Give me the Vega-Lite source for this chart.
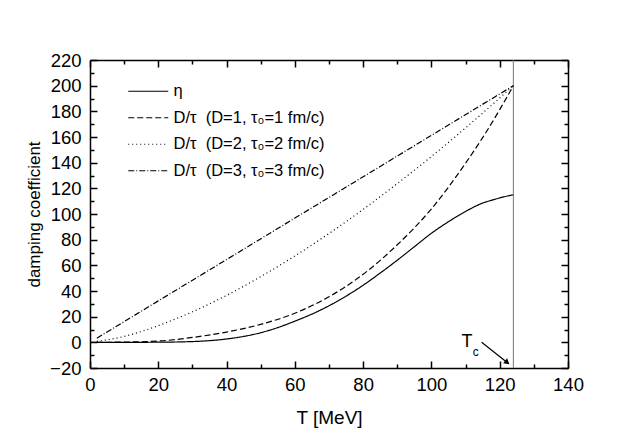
{
  "$schema": "https://vega.github.io/schema/vega-lite/v6.json",
  "width": 478,
  "height": 308,
  "autosize": {"type": "none"},
  "padding": {"left": 90, "top": 60, "right": 58, "bottom": 68},
  "background": "white",
  "config": {
    "view": {"stroke": null},
    "font": "Liberation Sans",
    "axis": {
      "grid": false,
      "domainColor": "black",
      "domainWidth": 1.5,
      "tickColor": "black",
      "tickWidth": 1.5,
      "labelFont": "Liberation Sans",
      "labelFontSize": 18.5,
      "labelColor": "black",
      "titleFont": "Liberation Sans",
      "titleFontSize": 17,
      "titleFontWeight": "normal",
      "titleColor": "black"
    }
  },
  "datasets": {
    "curves": [
      {"T": 0, "v": 0, "s": "η"},
      {"T": 10, "v": 0, "s": "η"},
      {"T": 20, "v": 0.1, "s": "η"},
      {"T": 30, "v": 0.6, "s": "η"},
      {"T": 40, "v": 2.6, "s": "η"},
      {"T": 45, "v": 4.6, "s": "η"},
      {"T": 50, "v": 7.5, "s": "η"},
      {"T": 55, "v": 11.5, "s": "η"},
      {"T": 60, "v": 16.5, "s": "η"},
      {"T": 65, "v": 22, "s": "η"},
      {"T": 70, "v": 28.5, "s": "η"},
      {"T": 75, "v": 36, "s": "η"},
      {"T": 80, "v": 44.5, "s": "η"},
      {"T": 85, "v": 54, "s": "η"},
      {"T": 90, "v": 64, "s": "η"},
      {"T": 95, "v": 74.5, "s": "η"},
      {"T": 100, "v": 85, "s": "η"},
      {"T": 105, "v": 94, "s": "η"},
      {"T": 110, "v": 102, "s": "η"},
      {"T": 115, "v": 108.5, "s": "η"},
      {"T": 118, "v": 111, "s": "η"},
      {"T": 121, "v": 113.2, "s": "η"},
      {"T": 124, "v": 115, "s": "η"},
      {"T": 2, "v": 0, "s": "D/τ\u00a0 (D=1, τ₀=1 fm/c)"},
      {"T": 10, "v": 0.2, "s": "D/τ\u00a0 (D=1, τ₀=1 fm/c)"},
      {"T": 20, "v": 1, "s": "D/τ\u00a0 (D=1, τ₀=1 fm/c)"},
      {"T": 30, "v": 3.8, "s": "D/τ\u00a0 (D=1, τ₀=1 fm/c)"},
      {"T": 40, "v": 8, "s": "D/τ\u00a0 (D=1, τ₀=1 fm/c)"},
      {"T": 50, "v": 14, "s": "D/τ\u00a0 (D=1, τ₀=1 fm/c)"},
      {"T": 60, "v": 22.7, "s": "D/τ\u00a0 (D=1, τ₀=1 fm/c)"},
      {"T": 70, "v": 35.5, "s": "D/τ\u00a0 (D=1, τ₀=1 fm/c)"},
      {"T": 80, "v": 53, "s": "D/τ\u00a0 (D=1, τ₀=1 fm/c)"},
      {"T": 90, "v": 76, "s": "D/τ\u00a0 (D=1, τ₀=1 fm/c)"},
      {"T": 100, "v": 104, "s": "D/τ\u00a0 (D=1, τ₀=1 fm/c)"},
      {"T": 110, "v": 139.6, "s": "D/τ\u00a0 (D=1, τ₀=1 fm/c)"},
      {"T": 115, "v": 159.5, "s": "D/τ\u00a0 (D=1, τ₀=1 fm/c)"},
      {"T": 120, "v": 181.3, "s": "D/τ\u00a0 (D=1, τ₀=1 fm/c)"},
      {"T": 124, "v": 200, "s": "D/τ\u00a0 (D=1, τ₀=1 fm/c)"},
      {"T": 2, "v": 0.8, "s": "D/τ\u00a0 (D=2, τ₀=2 fm/c)"},
      {"T": 5, "v": 2, "s": "D/τ\u00a0 (D=2, τ₀=2 fm/c)"},
      {"T": 10, "v": 4.6, "s": "D/τ\u00a0 (D=2, τ₀=2 fm/c)"},
      {"T": 15, "v": 8.4, "s": "D/τ\u00a0 (D=2, τ₀=2 fm/c)"},
      {"T": 20, "v": 13, "s": "D/τ\u00a0 (D=2, τ₀=2 fm/c)"},
      {"T": 30, "v": 23.8, "s": "D/τ\u00a0 (D=2, τ₀=2 fm/c)"},
      {"T": 40, "v": 36.6, "s": "D/τ\u00a0 (D=2, τ₀=2 fm/c)"},
      {"T": 50, "v": 51.2, "s": "D/τ\u00a0 (D=2, τ₀=2 fm/c)"},
      {"T": 60, "v": 67.3, "s": "D/τ\u00a0 (D=2, τ₀=2 fm/c)"},
      {"T": 70, "v": 84.8, "s": "D/τ\u00a0 (D=2, τ₀=2 fm/c)"},
      {"T": 80, "v": 103.6, "s": "D/τ\u00a0 (D=2, τ₀=2 fm/c)"},
      {"T": 90, "v": 123.7, "s": "D/τ\u00a0 (D=2, τ₀=2 fm/c)"},
      {"T": 100, "v": 144.8, "s": "D/τ\u00a0 (D=2, τ₀=2 fm/c)"},
      {"T": 110, "v": 167.1, "s": "D/τ\u00a0 (D=2, τ₀=2 fm/c)"},
      {"T": 120, "v": 190.4, "s": "D/τ\u00a0 (D=2, τ₀=2 fm/c)"},
      {"T": 124, "v": 200, "s": "D/τ\u00a0 (D=2, τ₀=2 fm/c)"},
      {"T": 2, "v": 3.2, "s": "D/τ\u00a0 (D=3, τ₀=3 fm/c)"},
      {"T": 20, "v": 32.3, "s": "D/τ\u00a0 (D=3, τ₀=3 fm/c)"},
      {"T": 40, "v": 64.5, "s": "D/τ\u00a0 (D=3, τ₀=3 fm/c)"},
      {"T": 60, "v": 96.8, "s": "D/τ\u00a0 (D=3, τ₀=3 fm/c)"},
      {"T": 80, "v": 129, "s": "D/τ\u00a0 (D=3, τ₀=3 fm/c)"},
      {"T": 100, "v": 161.3, "s": "D/τ\u00a0 (D=3, τ₀=3 fm/c)"},
      {"T": 124, "v": 200, "s": "D/τ\u00a0 (D=3, τ₀=3 fm/c)"}
    ]
  },
  "layer": [
    {
      "data": {"values": [{"Tc": 124}]},
      "mark": {"type": "rule", "color": "#777777", "strokeWidth": 1},
      "encoding": {
        "x": {"field": "Tc", "type": "quantitative", "scale": {"domain": [0, 140], "nice": false}, "axis": null}
      }
    },
    {
      "data": {"name": "curves"},
      "mark": {"type": "line", "color": "black", "strokeWidth": 1.2, "interpolate": "monotone"},
      "encoding": {
        "x": {
          "field": "T", "type": "quantitative",
          "scale": {"domain": [0, 140], "nice": false},
          "axis": {
            "orient": "bottom",
            "title": "T [MeV]",
            "titleFontSize": 19,
            "values": [0, 10, 20, 30, 40, 50, 60, 70, 80, 90, 100, 110, 120, 130, 140],
            "labelExpr": "datum.value % 20 === 0 ? datum.label : ''",
            "tickSize": {"condition": {"test": "datum.value % 20 === 0", "value": -7}, "value": -4},
            "labelPadding": 14,
            "titlePadding": 15,
            "labelFlush": false
          }
        },
        "y": {
          "field": "v", "type": "quantitative",
          "scale": {"domain": [-20, 220], "nice": false},
          "axis": {
            "orient": "left",
            "title": "damping coefficient",
            "values": [-20, -10, 0, 10, 20, 30, 40, 50, 60, 70, 80, 90, 100, 110, 120, 130, 140, 150, 160, 170, 180, 190, 200, 210, 220],
            "labelExpr": "datum.value % 20 === 0 ? datum.label : ''",
            "tickSize": {"condition": {"test": "datum.value % 20 === 0", "value": -7}, "value": -4},
            "labelPadding": 16,
            "titlePadding": 6,
            "labelFlush": false
          }
        },
        "strokeDash": {
          "field": "s", "type": "nominal",
          "scale": {
            "domain": ["η", "D/τ\u00a0 (D=1, τ₀=1 fm/c)", "D/τ\u00a0 (D=2, τ₀=2 fm/c)", "D/τ\u00a0 (D=3, τ₀=3 fm/c)"],
            "range": [[1, 0], [6, 3], [1, 3], [6, 2, 1, 2]]
          },
          "legend": {
            "orient": "none",
            "legendX": 50,
            "legendY": 23,
            "title": null,
            "padding": 0,
            "symbolType": "M-4,0H4",
            "symbolSize": 100,
            "symbolStrokeWidth": 1.2,
            "symbolStrokeColor": "black",
            "labelFont": "Liberation Sans",
            "labelFontSize": 16.5,
            "labelColor": "black",
            "labelOffset": 17,
            "rowPadding": 9.5
          }
        }
      }
    },
    {
      "data": {"values": [{"T1": 114.7, "v1": 0, "T2": 122.0, "v2": -15.3}]},
      "mark": {"type": "rule", "color": "black", "strokeWidth": 1.2},
      "encoding": {
        "x": {
          "field": "T1", "type": "quantitative",
          "scale": {"domain": [0, 140], "nice": false},
          "axis": {
            "orient": "top", "title": null, "labels": false,
            "values": [0, 10, 20, 30, 40, 50, 60, 70, 80, 90, 100, 110, 120, 130, 140],
            "tickSize": {"condition": {"test": "datum.value % 20 === 0", "value": -7}, "value": -4}
          }
        },
        "y": {
          "field": "v1", "type": "quantitative",
          "scale": {"domain": [-20, 220], "nice": false},
          "axis": {
            "orient": "right", "title": null, "labels": false,
            "values": [-20, -10, 0, 10, 20, 30, 40, 50, 60, 70, 80, 90, 100, 110, 120, 130, 140, 150, 160, 170, 180, 190, 200, 210, 220],
            "tickSize": {"condition": {"test": "datum.value % 20 === 0", "value": -7}, "value": -4}
          }
        },
        "x2": {"field": "T2"},
        "y2": {"field": "v2"}
      }
    },
    {
      "data": {"values": [{"T": 122.0, "v": -15.3}]},
      "mark": {"type": "point", "shape": "triangle", "angle": 128, "size": 40, "filled": true, "color": "black", "opacity": 1},
      "encoding": {
        "x": {"field": "T", "type": "quantitative", "scale": {"domain": [0, 140], "nice": false}, "axis": null},
        "y": {"field": "v", "type": "quantitative", "scale": {"domain": [-20, 220], "nice": false}, "axis": null}
      }
    },
    {
      "data": {"values": [{"T": 110.4, "v": 0, "txt": "T"}]},
      "mark": {"type": "text", "font": "Liberation Sans", "fontSize": 18, "color": "black", "baseline": "middle", "align": "center"},
      "encoding": {
        "x": {"field": "T", "type": "quantitative", "scale": {"domain": [0, 140], "nice": false}, "axis": null},
        "y": {"field": "v", "type": "quantitative", "scale": {"domain": [-20, 220], "nice": false}, "axis": null},
        "text": {"field": "txt"}
      }
    },
    {
      "data": {"values": [{"T": 113.0, "v": -7.2, "txt": "c"}]},
      "mark": {"type": "text", "font": "Liberation Sans", "fontSize": 12, "color": "black", "baseline": "middle", "align": "center"},
      "encoding": {
        "x": {"field": "T", "type": "quantitative", "scale": {"domain": [0, 140], "nice": false}, "axis": null},
        "y": {"field": "v", "type": "quantitative", "scale": {"domain": [-20, 220], "nice": false}, "axis": null},
        "text": {"field": "txt"}
      }
    }
  ],
  "resolve": {"axis": {"x": "independent", "y": "independent"}}
}
